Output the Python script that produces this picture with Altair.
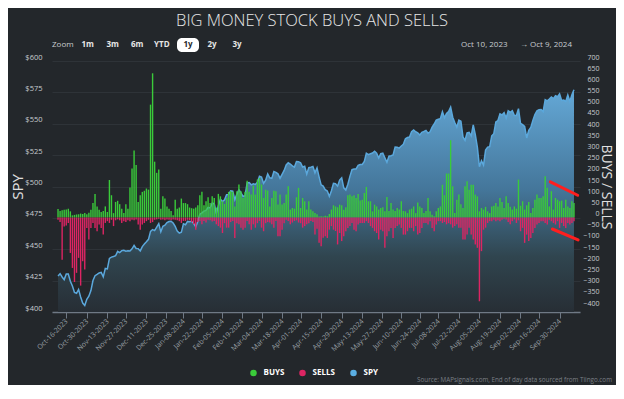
import altair as alt
import pandas as pd
import numpy as np

HOLIDAYS = ["2023-11-23", "2023-12-25", "2024-01-01", "2024-01-15", "2024-02-19",
            "2024-03-29", "2024-05-27", "2024-06-19", "2024-07-04", "2024-09-02"]
trading_days = [d for d in pd.bdate_range("2023-10-10", "2024-10-09")
                if d.strftime("%Y-%m-%d") not in HOLIDAYS]

spy = [
    428.7, 430.5, 427.9, 425.8, 430.2, 430.2, 424.5, 420.7, 415.6, 414.9,
    418.0, 412.0, 407.1, 405.2, 410.1, 412.6, 417.1, 425.1, 428.9, 429.9,
    431.1, 431.5, 428.0, 434.7, 434.3, 442.7, 443.7, 444.2, 444.8, 448.3,
    447.3, 448.9, 449.2, 448.5, 448.8, 448.6, 450.3, 453.0, 450.6, 450.5,
    448.7, 452.1, 454.1, 455.9, 457.9, 464.2, 465.7, 464.9, 467.6, 470.4,
    463.9, 468.3, 469.2, 471.2, 472.1, 472.3, 470.9, 468.2, 464.4, 462.9,
    463.5, 470.2, 469.5, 472.2, 471.9, 472.3, 470.5, 467.9, 472.1, 477.9,
    479.0, 480.4, 480.9, 483.4, 482.9, 486.7, 486.3, 478.4, 484.6, 489.8,
    488.0, 489.4, 493.5, 493.7, 496.5, 496.3, 489.5, 493.9, 497.3, 494.8,
    492.2, 492.6, 502.8, 503.1, 501.3, 502.2, 501.6, 503.4, 508.1, 507.5,
    502.5, 505.0, 510.0, 506.9, 506.5, 512.0, 511.2, 510.1, 506.6, 509.7,
    512.8, 517.2, 518.9, 517.9, 516.5, 515.5, 519.9, 519.8, 518.9, 515.5,
    516.1, 509.9, 515.1, 515.4, 516.0, 510.9, 514.8, 507.7, 501.3, 500.3,
    497.4, 496.4, 492.1, 496.6, 502.5, 502.2, 500.3, 505.1, 506.9, 498.9,
    497.2, 501.8, 508.1, 513.4, 513.9, 514.0, 516.9, 517.5, 517.6, 520.0,
    526.5, 525.4, 526.1, 526.7, 528.1, 526.5, 522.7, 526.1, 526.5, 522.8,
    519.3, 524.1, 524.5, 525.1, 531.4, 531.3, 530.6, 532.3, 533.6, 538.0,
    539.0, 539.4, 543.7, 545.1, 543.6, 542.8, 541.0, 543.1, 543.8, 544.7,
    542.5, 543.6, 547.3, 549.8, 552.9, 553.6, 554.1, 559.6, 554.8, 558.3,
    559.8, 563.2, 555.2, 551.0, 547.3, 553.0, 552.1, 539.5, 536.8, 542.7,
    543.1, 540.3, 549.1, 541.3, 531.3, 515.8, 520.6, 517.1, 529.0, 531.4,
    531.7, 540.3, 542.1, 551.4, 552.6, 557.9, 557.0, 558.9, 554.5, 560.4,
    559.1, 560.4, 556.6, 556.6, 562.0, 550.4, 549.3, 547.9, 538.7, 544.7,
    547.1, 552.7, 557.4, 560.3, 561.1, 561.4, 559.7, 569.2, 568.3, 569.7,
    571.3, 570.0, 572.3, 571.5, 573.8, 568.6, 568.9, 567.8, 573.0, 567.8,
    573.2, 577.1,
]

buys = [
    38, 30, 33, 35, 36, 40, 28, 10, 12, 14,
    15, 18, 16, 20, 15, 22, 35, 65, 105, 50,
    35, 25, 30, 50, 25, 168, 100, 20, 70, 75,
    60, 40, 20, 60, 40, 135, 220, 300, 235, 70,
    100, 115, 120, 130, 125, 505, 645, 250, 200, 215,
    40, 95, 85, 50, 40, 30, 10, 80, 40, 45,
    85, 65, 65, 60, 45, 42, 40, 45, 55, 100,
    115, 55, 73, 91, 65, 95, 88, 45, 106, 95,
    73, 61, 88, 115, 118, 115, 50, 118, 148, 118,
    88, 115, 165, 115, 103, 143, 103, 170, 177, 148,
    88, 125, 121, 50, 88, 120, 118, 58, 103, 58,
    65, 103, 140, 36, 43, 40, 91, 133, 43, 88,
    73, 36, 73, 36, 28, 20, 15, 5, 6, 5,
    8, 6, 16, 36, 55, 50, 46, 58, 55, 35,
    46, 100, 103, 95, 100, 88, 106, 76, 80, 110,
    137, 73, 73, 28, 58, 50, 36, 43, 46, 28,
    92, 30, 65, 36, 30, 43, 36, 73, 30, 28,
    20, 36, 40, 50, 20, 68, 50, 43, 20, 30,
    88, 28, 13, 6, 28, 43, 50, 147, 100, 197,
    197, 346, 140, 20, 80, 103, 60, 43, 140, 162,
    125, 147, 147, 103, 95, 28, 43, 36, 48, 28,
    20, 50, 53, 65, 50, 88, 70, 43, 95, 65,
    48, 36, 50, 40, 170, 53, 73, 36, 55, 70,
    20, 43, 80, 103, 88, 88, 95, 185, 133, 50,
    118, 36, 88, 80, 73, 76, 43, 80, 50, 43,
    73, 65,
]

sells = [
    -10, -20, -188, -40, -35, -24, -158, -225, -288, -247,
    -180, -304, -195, -232, -46, -98, -46, -24, -46, -61,
    -31, -46, -76, -24, -16, -24, -10, -38, -12, -8,
    -12, -24, -16, -20, -12, -16, -10, -12, -8, -31,
    -54, -31, -24, -16, -10, -24, -20, -10, -8, -5,
    -10, -8, -12, -8, -10, -12, -8, -10, -12, -16,
    -24, -15, -15, -10, -12, -20, -30, -54, -20, -15,
    -30, -15, -22, -10, -12, -18, -15, -30, -38, -45,
    -69, -25, -45, -45, -20, -15, -91, -25, -30, -45,
    -54, -45, -15, -30, -54, -30, -45, -25, -15, -45,
    -61, -25, -20, -22, -30, -45, -15, -83, -83, -54,
    -25, -10, -15, -30, -22, -15, -12, -22, -25, -45,
    -38, -30, -25, -15, -20, -76, -50, -113, -128, -90,
    -83, -91, -54, -38, -54, -60, -120, -69, -105, -83,
    -61, -46, -38, -24, -54, -61, -31, -24, -24, -24,
    -16, -24, -38, -46, -61, -69, -98, -54, -61, -135,
    -83, -61, -46, -91, -46, -38, -31, -46, -76, -76,
    -61, -46, -46, -61, -38, -76, -69, -46, -24, -24,
    -31, -16, -46, -61, -31, -16, -16, -24, -20, -30,
    -25, -30, -45, -38, -30, -45, -45, -98, -98, -76,
    -45, -76, -98, -120, -135, -374, -150, -54, -45, -24,
    -16, -16, -10, -16, -12, -16, -10, -5, -8, -20,
    -30, -16, -8, -24, -12, -61, -46, -113, -76, -105,
    -91, -69, -46, -31, -24, -16, -16, -24, -31, -10,
    -16, -24, -31, -16, -46, -24, -38, -46, -24, -31,
    -24, -16,
]

# red trend annotations (bar index, buys/sells value)
ann_i1 = [239.5, 240.5]
ann_v1 = [160, -51]
ann_i2 = [252.8, 253.0]
ann_v2 = [100, -100]

SERIES = ["BUYS", "SELLS", "SPY"]
COLORS = ["#3acb3a", "#dd2563", "#5aaee3"]

n = len(trading_days)
idx = list(range(n))
spy_df = pd.DataFrame({"idx": idx, "spy": spy})
bars_df = pd.concat([
    pd.DataFrame({"idx": idx, "series": "BUYS", "value": buys}),
    pd.DataFrame({"idx": idx, "series": "SELLS", "value": sells}),
], ignore_index=True)
ann_df = pd.DataFrame({"idx": ann_i1, "v": ann_v1, "idx2": ann_i2, "v2": ann_v2})

# x ticks every two weeks (ordinal trading-day axis)
td = pd.DatetimeIndex(trading_days)
tick_vals, tick_labels = [], []
for t in pd.date_range("2023-10-16", "2024-09-30", freq="14D"):
    pos = int(td.searchsorted(t))
    v = float(pos) if td[pos] == t else pos - 0.5
    tick_vals.append(v)
    tick_labels.append(t.strftime("%b-%d-%Y"))
label_expr = ("[" + ",".join("'%s'" % s for s in tick_labels) + "][indexof(["
              + ",".join(str(v) for v in tick_vals) + "], datum.value)]")

FONT = "Open Sans"
x_scale = alt.Scale(domain=[-0.5, n - 0.5], nice=False, zero=False)
x_axis = alt.Axis(values=tick_vals, labelExpr=label_expr, labelAngle=-45,
                  labelAlign="right", labelBaseline="middle", labelFontSize=7,
                  labelFont=FONT, labelColor="#9aa0a6", labelPadding=2,
                  labelOverlap=False, labelFlush=False, labelBound=False,
                  domainColor="#6f7985", domainWidth=1.5, tickColor="#6f7985",
                  tickSize=6, tickWidth=1, grid=False, title=None)
x_enc = alt.X("idx:Q", scale=x_scale, axis=x_axis, title=None)

left_scale = alt.Scale(domain=[400, 600], nice=False, zero=False)
right_scale = alt.Scale(domain=[-422, 700], nice=False, zero=False)

left_axis = alt.Axis(orient="left", values=list(range(400, 601, 25)),
                     labelExpr="'$' + datum.value", labelColor="#c8ccd0",
                     labelFontSize=7.5, labelFont=FONT, labelPadding=10,
                     labelOffset=-4, ticks=False, domain=False, grid=True,
                     gridColor="#2e3338", gridWidth=1, labelOverlap=False,
                     title="SPY", titleColor="#e0e0e0", titleFontSize=15,
                     titleFont=FONT, titleFontWeight="normal", titleX=-35,
                     titleY=125.5, titleAngle=-90, titleAlign="center",
                     titleBaseline="middle")
right_axis = alt.Axis(orient="right", values=list(range(-400, 701, 50)),
                      labelColor="#c8ccd0", labelFontSize=7, labelFont=FONT,
                      labelAlign="right", labelPadding=19, labelOffset=-4,
                      ticks=False, domain=False, grid=False, labelOverlap=False,
                      title="BUYS / SELLS", titleColor="#e0e0e0",
                      titleFontSize=14, titleFont=FONT, titleFontWeight="normal",
                      titleX=25, titleY=125.5, titleAngle=90, titleAlign="center",
                      titleBaseline="middle")

grad = alt.Gradient(gradient="linear", x1=0, x2=0, y1=0, y2=1, stops=[
    alt.GradientStop(color="#64a8d6", offset=0),
    alt.GradientStop(color="#44769a", offset=0.45),
    alt.GradientStop(color="#30454f", offset=0.75),
    alt.GradientStop(color="#272e35", offset=1),
])

area = alt.Chart(spy_df).mark_area(fill=grad, line=False).encode(
    x=x_enc,
    y=alt.Y("spy:Q", scale=left_scale, axis=left_axis),
    y2=alt.datum(400),
)
line = alt.Chart(spy_df).mark_line(color="#5ba8dc", strokeWidth=1.5).encode(
    x=x_enc,
    y=alt.Y("spy:Q", scale=left_scale, axis=None),
)
bars = alt.Chart(bars_df).mark_bar(width=1.4).encode(
    x=x_enc,
    y=alt.Y("value:Q", scale=right_scale, axis=right_axis),
    color=alt.Color("series:N", scale=alt.Scale(domain=SERIES, range=COLORS),
                    legend=alt.Legend(title=None, orient="none", legendX=197.5,
                                      legendY=308, direction="horizontal",
                                      symbolType="circle", symbolSize=42,
                                      symbolStrokeWidth=0, symbolOpacity=1,
                                      labelColor="#ffffff", labelFont=FONT,
                                      labelFontSize=8, labelFontWeight="bold",
                                      labelOffset=6, columnPadding=14, padding=0)),
)
ann = alt.Chart(ann_df).mark_rule(color="#ff1f1f", strokeWidth=3, strokeCap="round").encode(
    x=x_enc, x2="idx2:Q",
    y=alt.Y("v:Q", scale=right_scale, axis=None), y2="v2:Q",
)

dummy = pd.DataFrame({"k": [0]})


def txt(text, x, y, size, color, weight="normal", align="left"):
    return alt.Chart(dummy).mark_text(
        text=text, align=align, baseline="middle", fontSize=size, color=color,
        fontWeight=weight, font=FONT,
    ).encode(x=alt.value(x), y=alt.value(y))


btn = alt.Chart(dummy).mark_rect(color="#ffffff", cornerRadius=5).encode(
    x=alt.value(125), x2=alt.value(147), y=alt.value(-23), y2=alt.value(-9))

header = [
    txt("BIG MONEY STOCK BUYS AND SELLS", 260, -40, 16.5, "#e8e8e8", 300, "center"),
    txt("Zoom", 0, -16, 8, "#c8ccd0"),
    txt("1m", 29.5, -16, 8, "#e6e6e6", "bold"),
    txt("3m", 54.5, -16, 8, "#e6e6e6", "bold"),
    txt("6m", 79, -16, 8, "#e6e6e6", "bold"),
    txt("YTD", 102, -16, 8, "#e6e6e6", "bold"),
    btn,
    txt("1y", 136, -16, 8, "#23272b", "bold", "center"),
    txt("2y", 155.5, -16, 8, "#e6e6e6", "bold"),
    txt("3y", 180.5, -16, 8, "#e6e6e6", "bold"),
    txt("Oct 10, 2023", 409, -16, 8, "#c8ccd0"),
    txt("\u2192", 472, -16, 8, "#c8ccd0", "normal", "center"),
    txt("Oct 9, 2024", 478, -16, 8, "#c8ccd0"),
    txt("Source: MAPsignals.com, End of day data sourced from Tiingo.com",
        560, 319, 6.3, "#7a7f85", "normal", "right"),
]

chart = alt.layer(area, line, bars, ann, *header).resolve_scale(
    y="independent"
).properties(
    width=528, height=251,
    padding={"left": 44, "top": 53, "right": 36, "bottom": 73},
    autosize=alt.AutoSizeParams(type="none"),
).configure(background="#23272b").configure_view(stroke=None)

chart.save("out.html", embed_options={"renderer": "svg", "actions": False})
